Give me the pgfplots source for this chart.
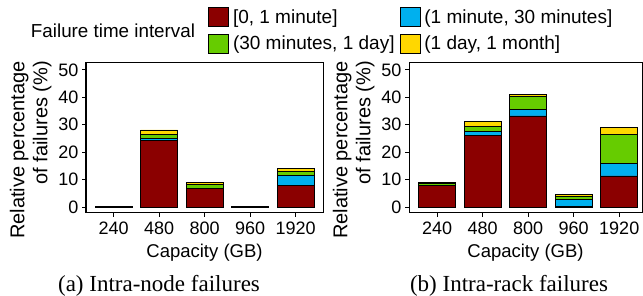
\documentclass[border=0pt]{standalone}
\usepackage{fontspec}
\setmainfont{Liberation Sans}
\newfontfamily\capfont{Liberation Serif}
\usepackage{pgfplots}
\usepackage{pgfplotstable}
\pgfplotsset{compat=1.18}
\definecolor{cred}{HTML}{8B0000}
\definecolor{cblue}{HTML}{00B0EE}
\definecolor{cgreen}{HTML}{66CC00}
\definecolor{cyellow}{HTML}{FFD700}

\pgfplotstableread{
x red blue green yellow
0 0.15 0 0 0
1 24.2 0.8 1.3 1.8
2 6.6 0.1 1.4 0.9
3 0.15 0 0 0
4 8.0 3.6 1.5 0.9
}\nodedata
\pgfplotstableread{
x red blue green yellow
0 7.7 0 1.0 0.3
1 26.2 1.4 1.9 1.8
2 33.2 2.2 4.9 0.8
3 0.2 2.6 1.0 0.6
4 11.3 4.6 10.6 2.5
}\rackdata

\pgfplotsset{panel/.style={
 height=150pt, scale only axis,
 ybar stacked, bar width=37pt,
 ymin=-2.2, ymax=52.5,
 xtick={0,...,4}, xticklabels={240,480,800,960,1920},
 ytick={0,10,...,50},
 xtick pos=lower, ytick pos=left,
 tick align=outside, tick style={black, line width=0.8pt}, major tick length=4pt,
 axis line style={line width=1pt},
 tick label style={font=\fontsize{18}{18}\selectfont},
 xticklabel style={yshift=-1pt},
 /pgf/number format/assume math mode=true,
 ylabel style={font=\fontsize{20}{23}\selectfont, align=right, at={(ticklabel cs:0.42)}},
 ylabel={Relative percentage\\of failures (\%)},
 xlabel style={font=\fontsize{18.5}{18.5}\selectfont, yshift=-3pt},
 xlabel={Capacity (GB)},
 every axis plot/.append style={draw=black, line width=0.8pt},
}}

\begin{document}
\begin{tikzpicture}
\useasboundingbox (0,0) rectangle (643pt,296pt);
\begin{axis}[panel, at={(86pt,83pt)}, anchor=south west, width=237pt,
  xmin=-0.61, xmax=4.6,
  legend columns=2,
  legend cell align=left,
  legend style={at={(0.5148,1.3733)}, anchor=north west, draw=none, fill=none,
    inner sep=0pt, nodes={inner sep=0pt},
    font=\fontsize{19}{19}\selectfont, row sep=6.5pt,
    /tikz/every odd column/.append style={column sep=4pt},
    /tikz/every even column/.append style={column sep=5pt}},
  legend image code/.code={\draw[#1, line width=0.8pt] (0pt,-9.5pt) rectangle (20pt,9.5pt);},
]
\addplot[fill=cred] table[x=x, y=red] {\nodedata};
\addlegendentry{{[}0, 1 minute{]}}
\addplot[fill=cblue] table[x=x, y=blue] {\nodedata};
\addlegendentry{(1 minute, 30 minutes{]}}
\addplot[fill=cgreen] table[x=x, y=green] {\nodedata};
\addlegendentry{(30 minutes, 1 day{]}}
\addplot[fill=cyellow] table[x=x, y=yellow] {\nodedata};
\addlegendentry{(1 day, 1 month{]}}
\end{axis}
\begin{axis}[panel, at={(409pt,83pt)}, anchor=south west, width=233pt,
  xmin=-0.62, xmax=4.5]
\addplot[fill=cred] table[x=x, y=red] {\rackdata};
\addplot[fill=cblue] table[x=x, y=blue] {\rackdata};
\addplot[fill=cgreen] table[x=x, y=green] {\rackdata};
\addplot[fill=cyellow] table[x=x, y=yellow] {\rackdata};
\end{axis}
\node[font=\fontsize{18.8}{18.8}\selectfont] at (113pt,265pt) {Failure time interval};
\node[font=\capfont\fontsize{23}{23}\selectfont] at (159pt,10pt) {(a) Intra-node failures};
\node[font=\capfont\fontsize{23}{23}\selectfont] at (509pt,10pt) {(b) Intra-rack failures};
\end{tikzpicture}
\end{document}
